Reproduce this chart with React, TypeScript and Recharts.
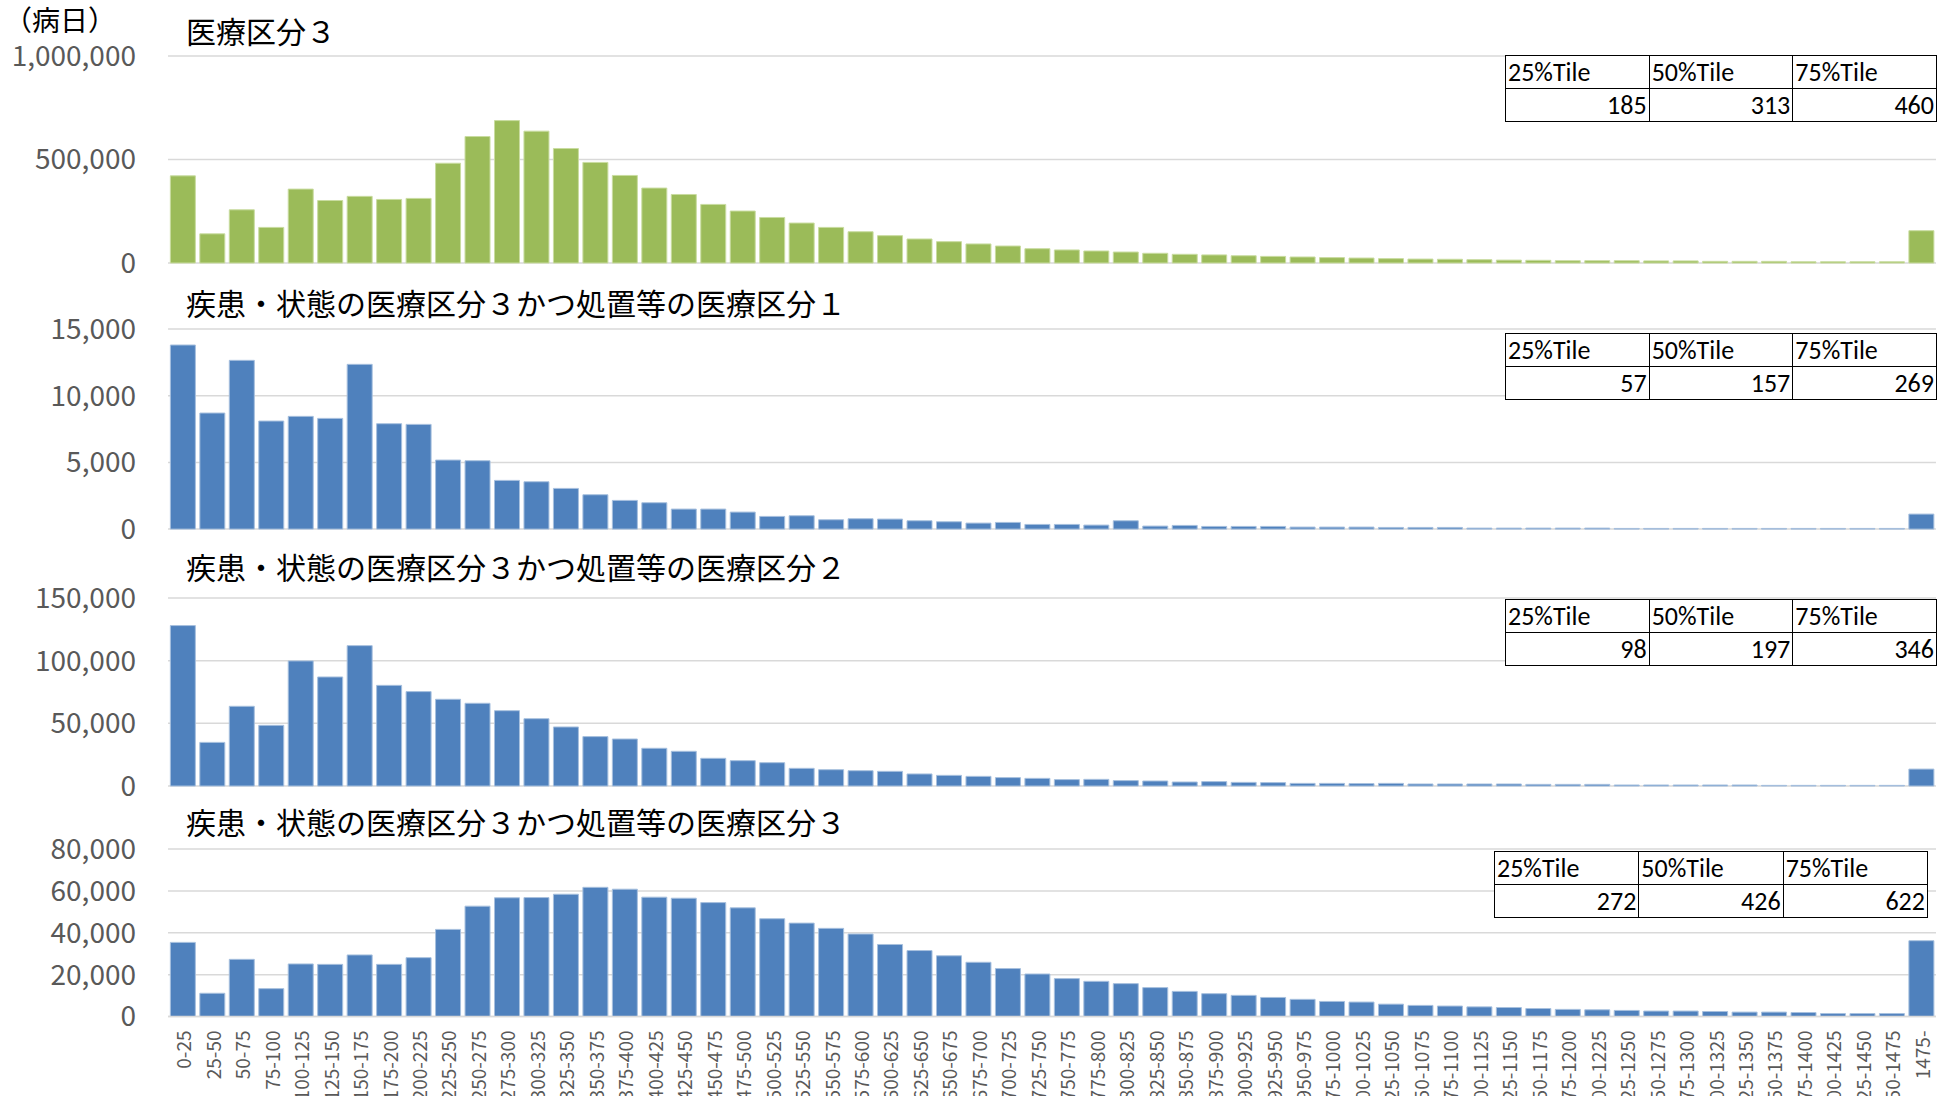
import { BarChart, Bar, XAxis, YAxis, CartesianGrid } from "recharts";

const categories = [
  "0-25", "25-50", "50-75", "75-100", "100-125", "125-150", "150-175", "175-200",
  "200-225", "225-250", "250-275", "275-300", "300-325", "325-350", "350-375", "375-400",
  "400-425", "425-450", "450-475", "475-500", "500-525", "525-550", "550-575", "575-600",
  "600-625", "625-650", "650-675", "675-700", "700-725", "725-750", "750-775", "775-800",
  "800-825", "825-850", "850-875", "875-900", "900-925", "925-950", "950-975", "975-1000",
  "1000-1025", "1025-1050", "1050-1075", "1075-1100", "1100-1125", "1125-1150", "1150-1175", "1175-1200",
  "1200-1225", "1225-1250", "1250-1275", "1275-1300", "1300-1325", "1325-1350", "1350-1375", "1375-1400",
  "1400-1425", "1425-1450", "1450-1475", "1475-",
];

// 医療区分３
const kubun3 = [
  421000, 141000, 257000, 172000, 357000, 302000, 322000, 307000, 312000, 482000,
  611000, 688000, 637000, 553000, 486000, 423000, 362000, 331000, 283000, 251000,
  220000, 193000, 172000, 151000, 132000, 116000, 103000, 92000, 82000, 69000,
  63000, 58000, 53000, 47000, 42000, 39000, 35000, 32000, 29000, 26000,
  24000, 21000, 19000, 18000, 16000, 14000, 13000, 11000, 11000, 11000,
  10000, 10000, 8000, 8000, 8000, 6000, 6000, 6000, 6000, 156000,
];

// 疾患・状態の医療区分３かつ処置等の医療区分１
const shochi1 = [
  13800, 8700, 12650, 8100, 8450, 8300, 12350, 7900, 7850, 5175,
  5125, 3650, 3550, 3050, 2575, 2150, 1975, 1500, 1500, 1275,
  950, 1000, 700, 775, 750, 625, 550, 450, 500, 350,
  350, 300, 625, 225, 275, 200, 200, 200, 150, 150,
  150, 125, 125, 125, 75, 75, 75, 75, 75, 50,
  50, 50, 50, 50, 50, 50, 50, 50, 50, 1125,
];

// 疾患・状態の医療区分３かつ処置等の医療区分２
const shochi2 = [
  128000, 34800, 63600, 48400, 99800, 87000, 112000, 80300, 75300, 69200,
  66000, 60100, 53700, 47100, 39400, 37500, 30100, 27700, 22100, 20200,
  18600, 14100, 13000, 12200, 11700, 9600, 8500, 7700, 6700, 6100,
  5100, 5300, 4300, 4000, 3200, 3500, 2900, 2700, 2100, 2100,
  1900, 2100, 1600, 1600, 1600, 1600, 1300, 1300, 1300, 800,
  800, 800, 800, 800, 500, 500, 500, 500, 500, 13500,
];

// 疾患・状態の医療区分３かつ処置等の医療区分３
const shochi3 = [
  35400, 11100, 27300, 13300, 25100, 24900, 29400, 24900, 28100, 41600,
  52700, 56700, 56800, 58400, 61700, 60800, 57000, 56500, 54400, 51900,
  46700, 44600, 42100, 39400, 34400, 31500, 29000, 25900, 22900, 20300,
  18100, 16800, 15700, 13800, 12000, 10900, 10100, 9100, 8200, 7200,
  6900, 5900, 5300, 5000, 4600, 4300, 3800, 3400, 3200, 2900,
  2600, 2600, 2400, 2100, 2100, 1900, 1400, 1400, 1400, 36200,
];

const titles = [
  "医療区分３",
  "疾患・状態の医療区分３かつ処置等の医療区分１",
  "疾患・状態の医療区分３かつ処置等の医療区分２",
  "疾患・状態の医療区分３かつ処置等の医療区分３",
];

const tileHeaders = ["25%Tile", "50%Tile", "75%Tile"];
const p25 = [185, 57, 98, 272];
const p50 = [313, 157, 197, 426];
const p75 = [460, 269, 346, 622];

const JP = "'Noto Sans CJK JP', 'Noto Sans', sans-serif";
const TBL = "Carlito, Lato, 'Noto Sans', sans-serif";

const panels = [
  { values: kubun3, color: "#9BBB59", edge: "#C9DCA0", ticks: [0, 500000, 1000000], plotTop: 55.7, plotBottom: 262.7, titleY: 30, table: { x: 1505, y: 55, w: 431 } },
  { values: shochi1, color: "#4F81BD", edge: "#A7C0DE", ticks: [0, 5000, 10000, 15000], plotTop: 329.4, plotBottom: 529.5, titleY: 302, table: { x: 1505, y: 333, w: 431 } },
  { values: shochi2, color: "#4F81BD", edge: "#A7C0DE", ticks: [0, 50000, 100000, 150000], plotTop: 597.7, plotBottom: 785.7, titleY: 566, table: { x: 1505, y: 599, w: 431 } },
  { values: shochi3, color: "#4F81BD", edge: "#A7C0DE", ticks: [0, 20000, 40000, 60000, 80000], plotTop: 848.5, plotBottom: 1016, titleY: 821, table: { x: 1494, y: 851, w: 433 } },
];

const XTick = ({ x, y, payload }: any) => (
  <text
    x={x}
    y={y}
    transform={`rotate(-90, ${x}, ${y})`}
    textAnchor="end"
    dominantBaseline="central"
    fill="#595959"
    fontSize={19}
    fontFamily={JP}
  >
    {payload.value}
  </text>
);

function TileTable({ i, pos }: any) {
  const vals = [p25[i], p50[i], p75[i]];
  const cell: any = {
    border: "1.5px solid #000",
    width: pos.w / 3,
    height: 33,
    padding: "0 2px",
    fontSize: 26,
    fontFamily: TBL,
    color: "#000",
    lineHeight: "32px",
    boxSizing: "border-box",
    overflow: "hidden",
    whiteSpace: "nowrap",
  };
  return (
    <table
      style={{
        position: "absolute",
        left: pos.x,
        top: pos.y,
        width: pos.w,
        borderCollapse: "collapse",
        tableLayout: "fixed",
        background: "#fff",
      }}
    >
      <tbody>
        <tr>
          {tileHeaders.map((h) => (
            <td key={h} style={{ ...cell, textAlign: "left" }}>{h}</td>
          ))}
        </tr>
        <tr>
          {vals.map((v, k) => (
            <td key={k} style={{ ...cell, textAlign: "right" }}>{v}</td>
          ))}
        </tr>
      </tbody>
    </table>
  );
}

export default function App() {
  return (
    <div style={{ position: "absolute", left: 0, top: 0, width: 1949, height: 1096, overflow: "hidden", background: "#fff" }}>
      {panels.map((p, i) => {
        const last = i === panels.length - 1;
        const topPad = 24;
        const botPad = last ? 2 : 20;
        const xH = last ? 110 : 0;
        const h = p.plotBottom - p.plotTop + topPad + xH + botPad;
        const data = categories.map((c, k) => ({ name: c, value: p.values[k] }));
        const max = p.ticks[p.ticks.length - 1];
        return (
          <div key={i} style={{ position: "absolute", left: 0, top: p.plotTop - topPad }}>
            <BarChart
              width={1949}
              height={h}
              data={data}
              margin={{ top: topPad, right: 13, left: 8, bottom: botPad }}
              barCategoryGap="8%"
            >
              <CartesianGrid vertical={false} stroke="#d9d9d9" strokeWidth={1.5} />
              <XAxis
                dataKey="name"
                interval={0}
                hide={!last}
                height={xH}
                tick={<XTick />}
                tickLine={false}
                tickSize={0}
                tickMargin={14}
                axisLine={{ stroke: "#d9d9d9", strokeWidth: 1.5 }}
              />
              <YAxis
                width={160}
                domain={[0, max]}
                ticks={p.ticks}
                interval={0}
                axisLine={false}
                tickLine={false}
                tickSize={0}
                tickMargin={32}
                tickFormatter={(v: number) => v.toLocaleString("en-US")}
                tick={{ fill: "#595959", fontSize: 28, fontFamily: JP }}
              />
              <Bar dataKey="value" fill={p.color} stroke={p.edge} strokeWidth={1} isAnimationActive={false} />
            </BarChart>
          </div>
        );
      })}
      {panels.map((p, i) => (
        <div
          key={"t" + i}
          style={{
            position: "absolute",
            left: 186,
            top: p.titleY - 20,
            height: 40,
            lineHeight: "40px",
            fontSize: 30,
            fontFamily: JP,
            color: "#000",
            whiteSpace: "nowrap",
          }}
        >
          {titles[i]}
        </div>
      ))}
      <div
        style={{
          position: "absolute",
          left: 4,
          top: 1,
          height: 36,
          lineHeight: "36px",
          fontSize: 28,
          fontFamily: JP,
          color: "#000",
        }}
      >
        （病日）
      </div>
      {panels.map((p, i) => (
        <TileTable key={"tb" + i} i={i} pos={p.table} />
      ))}
    </div>
  );
}
